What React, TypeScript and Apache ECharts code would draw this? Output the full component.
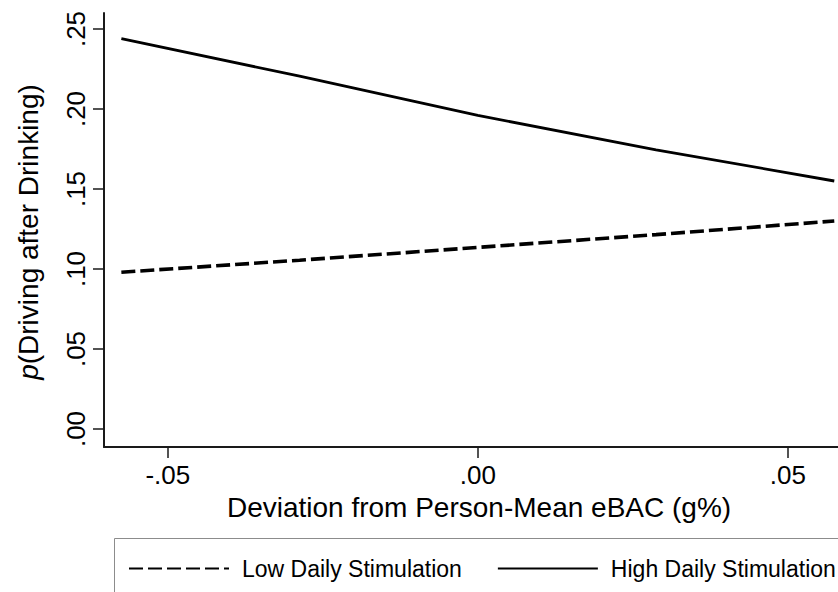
import React, { useEffect, useRef } from "react";
import * as echarts from "echarts";

const xValues = [-0.0575, -0.02875, 0, 0.02875, 0.0575];
const lowStim = [0.098, 0.1055, 0.1135, 0.1215, 0.13];
const highStim = [0.244, 0.2205, 0.196, 0.1745, 0.155];
const xTicks = [-0.05, 0, 0.05];
const yTicks = [0, 0.05, 0.1, 0.15, 0.2, 0.25];
const seriesNames = ["Low Daily Stimulation", "High Daily Stimulation"];

const FONT = "'Liberation Sans', Arial, Helvetica, sans-serif";

const fmt = (v: number) => {
  const s = (Math.round(v * 100) / 100).toFixed(2);
  return s.replace("0.", ".");
};

export default function App() {
  const ref = useRef<HTMLDivElement>(null);
  useEffect(() => {
    if (!ref.current) return;
    const chart = echarts.init(ref.current, undefined, { renderer: "svg" });
    const axisColor = "#1a1a1a";
    chart.setOption({
      animation: false,
      backgroundColor: "#ffffff",
      grid: { left: 104, top: 13, right: 0, bottom: 145, containLabel: false },
      xAxis: {
        type: "value",
        min: -0.0603,
        max: 0.0581,
        axisLine: { show: true, onZero: false, lineStyle: { color: axisColor, width: 2 } },
        axisTick: { show: true, length: 11, customValues: xTicks, lineStyle: { color: axisColor, width: 1.5 } },
        axisLabel: {
          customValues: xTicks,
          formatter: (v: number) => fmt(v),
          fontFamily: FONT,
          fontSize: 26,
          color: "#000",
          margin: 15,
        },
        splitLine: { show: false },
      },
      yAxis: {
        type: "value",
        min: -0.01125,
        max: 0.26,
        axisLine: { show: true, onZero: false, lineStyle: { color: axisColor, width: 2 } },
        axisTick: { show: true, length: 11, customValues: yTicks, lineStyle: { color: axisColor, width: 1.5 } },
        axisLabel: {
          customValues: yTicks,
          formatter: (v: number) => fmt(v),
          fontFamily: FONT,
          fontSize: 26,
          color: "#000",
          rotate: 90,
          margin: 15,
        },
        splitLine: { show: false },
      },
      legend: {
        data: seriesNames,
        left: 128,
        top: 557,
        width: 720,
        padding: 0,
        itemWidth: 100,
        itemHeight: 14,
        itemGap: 35,
        itemStyle: { opacity: 0 },
        textStyle: { fontFamily: FONT, fontSize: 23, color: "#000", padding: [0, 0, 0, 8] },
      },
      graphic: [
        {
          type: "rect",
          shape: { x: 114.5, y: 538.5, width: 800, height: 100 },
          style: { fill: "none", stroke: "#8c8c8c", lineWidth: 1 },
          z: -1,
        },
        {
          type: "text",
          x: 479,
          y: 507,
          style: {
            text: "Deviation from Person-Mean eBAC (g%)",
            font: `28px ${FONT}`,
            fill: "#000",
            align: "center",
            verticalAlign: "middle",
          },
        },
        {
          type: "text",
          x: 28,
          y: 232,
          rotation: Math.PI / 2,
          style: {
            text: "{i|p}(Driving after Drinking)",
            font: `28px ${FONT}`,
            fill: "#000",
            align: "center",
            verticalAlign: "middle",
            rich: {
              i: { fontStyle: "italic", fontSize: 28, fontFamily: FONT, fill: "#000" },
            },
          },
        },
      ],
      series: [
        {
          name: seriesNames[0],
          type: "line",
          data: xValues.map((x, i) => [x, lowStim[i]]),
          symbol: "none",
          lineStyle: { color: "#000", width: 3.6, type: [14, 5] },
          itemStyle: { color: "#000" },
        },
        {
          name: seriesNames[1],
          type: "line",
          data: xValues.map((x, i) => [x, highStim[i]]),
          symbol: "none",
          lineStyle: { color: "#000", width: 2.8, type: "solid" },
          itemStyle: { color: "#000" },
        },
      ],
    });
    return () => chart.dispose();
  }, []);
  return (
    <div
      ref={ref}
      style={{ position: "fixed", left: 0, top: 0, width: 838, height: 592 }}
    />
  );
}
